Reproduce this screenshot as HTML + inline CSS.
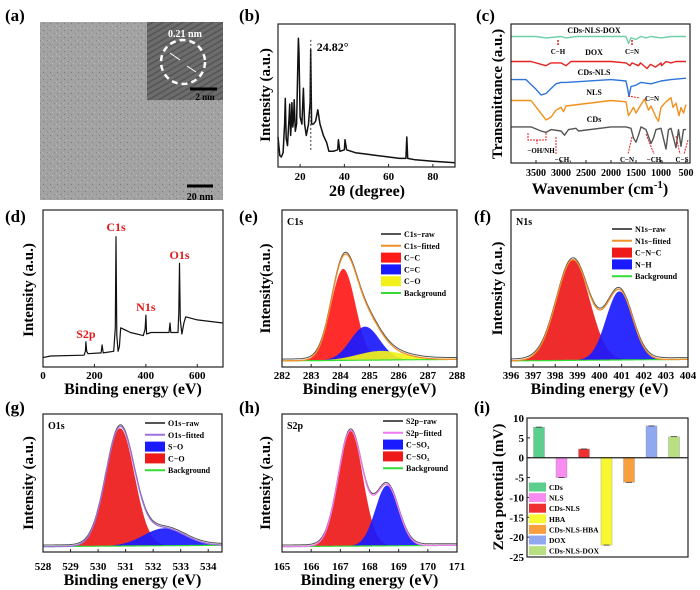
<!DOCTYPE html>
<html><head><meta charset="utf-8"><style>
html,body{margin:0;padding:0;background:#fff;}
svg{display:block;font-family:"Liberation Serif",serif;font-weight:bold;}
</style></head><body>
<svg id="fig" width="700" height="590" viewBox="0 0 700 590">
<defs>
<pattern id="tem" width="7" height="7" patternUnits="userSpaceOnUse">
<rect width="7" height="7" fill="#a2a2a2"/><rect x="1" y="2" width="1" height="1" fill="#7a7a7a"/><rect x="5" y="5" width="1" height="1" fill="#888"/><rect x="3" y="0" width="1" height="1" fill="#bcbcbc"/><rect x="0" y="5" width="1" height="1" fill="#b8b8b8"/>
</pattern>
<pattern id="hr" width="5" height="5" patternUnits="userSpaceOnUse" patternTransform="rotate(60)">
<rect width="5" height="5" fill="#6c6c6c"/><rect width="1.5" height="5" fill="#555"/>
</pattern>
</defs>
<g font-size="17">
<text x="5" y="21">(a)</text><text x="239" y="21">(b)</text><text x="476" y="21">(c)</text>
<text x="5" y="222">(d)</text><text x="239" y="222">(e)</text><text x="474" y="222">(f)</text>
<text x="5" y="413">(g)</text><text x="239" y="413">(h)</text><text x="474" y="413">(i)</text>
</g>
<g>
<rect x="40" y="22" width="183" height="178" fill="url(#tem)"/>
<rect x="147" y="22" width="76" height="78" fill="url(#hr)"/>
<circle cx="183" cy="62" r="22" fill="none" stroke="#fff" stroke-width="2.5" stroke-dasharray="6,4"/>
<line x1="170" y1="53" x2="180" y2="60" stroke="#fff" stroke-width="1"/><line x1="196" y1="72" x2="187" y2="66" stroke="#fff" stroke-width="1"/>
<text x="185" y="37" fill="#fff" font-size="10" text-anchor="middle">0.21 nm</text>
<line x1="190" y1="89" x2="217" y2="89" stroke="#000" stroke-width="3"/>
<text x="205" y="100" fill="#000" font-size="9" text-anchor="middle">2 nm</text>
<line x1="187" y1="186" x2="213" y2="186" stroke="#000" stroke-width="3"/>
<text x="200" y="200" font-size="10" text-anchor="middle">20 nm</text>
</g>
<g id="plots"></g>
</svg>
<script>
// ---------- DATA ----------
const xrdAngles=[10,10.8,11.5,12.3,13.0,13.3,13.7,14.3,15.0,15.3,15.7,16.0,16.3,16.7,17.0,17.3,17.8,18.4,19.0,19.2,19.5,20.0,20.8,21.5,22.0,22.8,23.8,24.5,24.8,25.2,26.0,27.0,28.0,29.0,30.5,32,33,35,37,37.3,38,40,40.3,41,45,50,55,60,65,67.8,68.2,68.6,72,80,90];
const xrdIntensity=[0.21,0.08,0.07,0.1,0.3,0.48,0.2,0.15,0.35,0.44,0.22,0.3,0.45,0.28,0.33,0.47,0.25,0.3,0.75,0.9,0.8,0.35,0.3,0.55,0.3,0.22,0.3,0.45,0.82,0.3,0.3,0.32,0.4,0.3,0.22,0.17,0.11,0.11,0.12,0.19,0.11,0.12,0.19,0.12,0.1,0.09,0.08,0.07,0.06,0.06,0.21,0.06,0.05,0.04,0.03];
const xrdTicks=[20,40,60,80];

const ftirTicks=[3500,3000,2500,2000,1500,1000,500];
const ftirNames=["CDs-NLS-DOX","DOX","CDs-NLS","NLS","CDs"];
const ftirDoxNlsWn=[4000,3500,3300,3000,2900,2700,2000,1700,1650,1600,1500,1400,1300,1200,1000,800,500];
const ftirDoxNlsT=[91,91,90,91,90,91,91,91,86,90,89,91,90,91,90,91,91];
const ftirDoxWn=[4000,3600,3400,3300,3200,3000,2900,2800,2000,1700,1620,1580,1450,1410,1280,1210,1110,1000,990,900,800,700,500];
const ftirDoxT=[73,73,71,70,72,72,70,73,73,72,70,72,70,72,68,71,69,72,70,73,72,73,73];
const ftirCdsNlsWn=[4000,3700,3500,3400,3300,3100,3000,2900,2000,1700,1660,1640,1600,1500,1400,1200,1000,800,500];
const ftirCdsNlsT=[60,60,53,49,50,57,58,58,60,59,52,48,55,56,58,57,59,60,61];
const ftirNlsWn=[4000,3600,3450,3300,3200,3100,3000,2950,2900,2000,1700,1650,1550,1500,1400,1330,1250,1200,1100,1050,1000,900,800,760,700,640,600,550,500];
const ftirNlsT=[45,45,38,31,33,38,40,37,41,45,44,34,40,36,42,46,38,41,33,30,40,44,47,40,43,34,40,36,42];
const ftirCdsWn=[4000,3600,3400,3300,3200,3000,2930,2850,2700,2650,2000,1700,1600,1550,1500,1450,1400,1300,1200,1150,1100,1000,900,850,800,700,650,600,550,500];
const ftirCdsT=[26,26,23,22,24,23,20,24,25,23,26,26,25,18,15,20,26,24,14,18,24,25,10,24,25,11,24,12,24,24];

const surveyEv=[0,30,160,165,167,170,175,226,230,234,275,281,284,287,292,297,302,340,390,397,400,403,420,490,494,497,500,525,528,531,534,540,548,555,600,700];
const surveyI=[0.06,0.07,0.075,0.1,0.16,0.1,0.085,0.09,0.14,0.09,0.1,0.25,0.83,0.2,0.1,0.13,0.25,0.22,0.2,0.24,0.33,0.21,0.22,0.22,0.28,0.22,0.22,0.22,0.35,0.66,0.3,0.21,0.28,0.32,0.3,0.28];
const surveyTicks=[0,200,400,600];

const c1sCenters=[284.1,284.85,285.4];
const c1sHeights=[0.6,0.22,0.06];
const c1sWidths=[0.42,0.5,0.8];
const c1sTicks=[282,283,284,285,286,287,288];

const n1sCenters=[398.8,400.9];
const n1sHeights=[0.66,0.45];
const n1sWidths=[0.75,0.6];
const n1sTicks=[396,397,398,399,400,401,402,403,404];

const o1sCenters=[530.8,532.4];
const o1sHeights=[0.88,0.13];
const o1sWidths=[0.52,0.75];
const o1sTicks=[528,529,530,531,532,533,534];

const s2pCenters=[167.35,168.6];
const s2pHeights=[0.86,0.45];
const s2pWidths=[0.42,0.4];
const s2pTicks=[165,166,167,168,169,170,171];

const zetaNames=["CDs","NLS","CDs-NLS","HBA","CDs-NLS-HBA","DOX","CDs-NLS-DOX"];
const zetaValues=[7.7,-5,2.2,-22,-6.2,8,5.3];
const zetaTicks=[10,5,0,-5,-10,-15,-20,-25];

// ---------- DRAWING ----------
const NS="http://www.w3.org/2000/svg";
const root=document.getElementById('plots');
function el(tag,attrs,parent,txt){const e=document.createElementNS(NS,tag);for(const k in attrs)e.setAttribute(k,attrs[k]);if(txt!==undefined)e.textContent=txt;(parent||root).appendChild(e);return e;}
function lin(d0,d1,r0,r1){return v=>r0+(v-d0)*(r1-r0)/(d1-d0);}
function gauss(x,c,h,s){return h*Math.exp(-(x-c)*(x-c)/(2*s*s));}

function frame(g,x0,y0,x1,y1){const r=el('rect',{x:x0,y:y0,width:x1-x0,height:y1-y0,fill:'none',stroke:'#222','stroke-width':1.2},g);}
function xTicks(g,ticks,sx,yb,labY,fs,fmt){ticks.forEach(t=>{el('line',{x1:sx(t),y1:yb,x2:sx(t),y2:yb-3,stroke:'#222'},g);const tx=el('text',{x:sx(t),y:labY,'font-size':fs,'text-anchor':'middle'},g,fmt?fmt(t):t);});}
function yTitle(g,x,yc,txt,fs){const t=el('text',{x:x,y:yc,'font-size':fs,'text-anchor':'middle',transform:`rotate(-90 ${x} ${yc})`},g,txt);}
function xTitle(g,xc,y,txt,fs){const t=el('text',{x:xc,y:y,'font-size':fs,'text-anchor':'middle'},g,txt);}
function poly(g,xs,ys,sx,sy,color,w){let d='';xs.forEach((x,i)=>{d+=(i?'L':'M')+sx(x).toFixed(1)+','+sy(ys[i]).toFixed(1);});return el('path',{d:d,fill:'none',stroke:color,'stroke-width':w||1.3,'stroke-linejoin':'round'},g);}

// (b) XRD
(function(){
 const g=el('g',{});
 const sx=lin(10,90,278,455), sy=lin(0,1,167,24);
 const p=poly(g,xrdAngles,xrdIntensity,sx,sy,'#111',1.5);
 el('line',{x1:sx(24.82),y1:sy(0.12),x2:sx(24.82),y2:sy(0.9),stroke:'#333','stroke-dasharray':'2,2'},g);
 el('text',{x:sx(24.82)+6,y:51,'font-size':12},g,'24.82°');
 frame(g,278,24,455,167);xTicks(g,xrdTicks,sx,167,180,11);
 yTitle(g,270,95,'Intensity (a.u.)',15);xTitle(g,367,196,'2θ (degree)',16);
})();

// (c) FTIR
(function(){
 const g=el('g',{});
 const sx=lin(4000,420,511,690), sy=lin(0,100,163,24);
 const sets=[[ftirDoxNlsWn,ftirDoxNlsT,'#6fcfa8'],[ftirDoxWn,ftirDoxT,'#e52222'],[ftirCdsNlsWn,ftirCdsNlsT,'#2f74d8'],[ftirNlsWn,ftirNlsT,'#f0901c'],[ftirCdsWn,ftirCdsT,'#555']];
 const labY=[33,55,75,95,122];
 sets.forEach((s,i)=>{const p=poly(g,s[0],s[1],sx,sy,s[2],1.4);
  el('text',{x:594,y:labY[i],'font-size':8,'text-anchor':'middle'},g,ftirNames[i]);});
 const red='#e02020';
 el('line',{x1:558,y1:40,x2:558,y2:46,stroke:red,'stroke-dasharray':'2,1','stroke-width':1.5},g);
 el('text',{x:558,y:54,'font-size':7,'text-anchor':'middle'},g,'C−H');
 el('line',{x1:632,y1:40,x2:632,y2:46,stroke:red,'stroke-dasharray':'2,1','stroke-width':1.5},g);
 el('text',{x:632,y:54,'font-size':7,'text-anchor':'middle'},g,'C=N');
 el('line',{x1:628,y1:96,x2:640,y2:98,stroke:red,'stroke-dasharray':'2,1'},g);
 el('text',{x:652,y:101,'font-size':7,'text-anchor':'middle'},g,'C=N');
 el('path',{d:'M528,133 L528,140 L546,140 L546,133 M537,140 L537,144',fill:'none',stroke:red,'stroke-dasharray':'2,1'},g);
 el('text',{x:541,y:153,'font-size':7,'text-anchor':'middle'},g,'−OH/NH');
 el('line',{x1:556,y1:137,x2:556,y2:154,stroke:red,'stroke-dasharray':'2,1'},g);
 el('text',{x:563,y:162,'font-size':7,'text-anchor':'middle'},g,'−CH₃');
 el('path',{d:'M632,137 L628,154 M646,134 L654,154',fill:'none',stroke:red,'stroke-dasharray':'2,1'},g);
 el('text',{x:627,y:162,'font-size':7,'text-anchor':'middle'},g,'C−N');
 el('text',{x:655,y:162,'font-size':7,'text-anchor':'middle'},g,'−CH₂');
 el('path',{d:'M676,136 L680,154 M688,140 L684,154',fill:'none',stroke:red,'stroke-dasharray':'2,1'},g);
 el('text',{x:682,y:162,'font-size':7,'text-anchor':'middle'},g,'C−S');
 frame(g,511,24,690,163);xTicks(g,ftirTicks,sx,163,176,10);
 yTitle(g,502,94,'Transmittance (a.u.)',15);
 const t=el('text',{x:600,y:194,'font-size':16,'text-anchor':'middle'},g,'Wavenumber (cm');
 el('tspan',{dy:-6,'font-size':11},t,'-1');el('tspan',{dy:6},t,')');
})();

// (d) survey
(function(){
 const g=el('g',{});
 const sx=lin(0,700,43,223), sy=lin(0,1,367,210);
 const p=poly(g,surveyEv,surveyI,sx,sy,'#111',1.2);
 [['C1s',284,231],['O1s',531,259],['N1s',400,311],['S2p',167,338]].forEach(a=>el('text',{x:sx(a[1]),y:a[2],'font-size':12,fill:'#e01a1a','text-anchor':'middle'},g,a[0]));
 frame(g,43,210,223,367);xTicks(g,surveyTicks,sx,367,379,11);
 yTitle(g,33,290,'Intensity (a.u.)',15);xTitle(g,133,394,'Binding energy (eV)',16);
})();

function xpsPanel(name,x0,x1,y0,y1,d0,d1,centers,heights,widths,colors,fitColor,ticks,yt,xtY,titleY,title,elem,legend,lx,ly,ytitle){
 const g=el('g',{});
 const sx=lin(d0,d1,x0,x1), sy=lin(-0.03,1,y1,y0);
 const N=160, xs=[];for(let i=0;i<=N;i++)xs.push(d0+(d1-d0)*i/N);
 const bg=v=>0.01+0.01*(v-d0)/(d1-d0);
 centers.forEach((c,k)=>{let d='M'+sx(d0)+','+sy(bg(d0));xs.forEach(v=>{d+='L'+sx(v).toFixed(1)+','+sy(bg(v)+gauss(v,c,heights[k],widths[k])).toFixed(1);});xs.slice().reverse().forEach(v=>{d+='L'+sx(v).toFixed(1)+','+sy(bg(v)).toFixed(1);});
  const a=el('path',{d:d+'Z',fill:colors[k],'fill-opacity':0.92,stroke:'none'},g);});
 const sum=xs.map(v=>bg(v)+centers.reduce((s,c,k)=>s+gauss(v,c,heights[k],widths[k]),0));
 poly(g,xs,xs.map(bg),sx,sy,'#33dd33',1.2);
 const r=poly(g,xs,sum.map(v=>v+0.012),sx,sy,'#555',1);
 const f=poly(g,xs,sum,sx,sy,fitColor,1.3);
 frame(g,x0,y0,x1,y1);xTicks(g,ticks,sx,y1,xtY,11);
 yTitle(g,yt,(y0+y1)/2,ytitle,15);xTitle(g,(x0+x1)/2,titleY,title,16);
 el('text',{x:x0+5,y:y0+15,'font-size':10},g,elem);
 legend.forEach((it,i)=>{const y=ly+i*11.8;
  if(it[2]==='line')el('line',{x1:lx,y1:y,x2:lx+20,y2:y,stroke:it[1],'stroke-width':2},g);
  else el('rect',{x:lx,y:y-5,width:20,height:10,fill:it[1]},g);
  const t=el('text',{x:lx+23,y:y+3,'font-size':8},g,it[0]);});
}
xpsPanel('c1s-panel',282,457,210,367,282,288,c1sCenters,c1sHeights,c1sWidths,['#ff1a1a','#1a1aff','#f2f21a'],'#f0902a',c1sTicks,270,379,394,'Binding energy(eV)','C1s',
 [['C1s−raw','#555','line'],['C1s−fitted','#f0902a','line'],['C−C','#ff1a1a','box'],['C=C','#1a1aff','box'],['C−O','#f2f21a','box'],['Background','#33dd33','line']],381,234,'Intensity(a.u.)');
xpsPanel('n1s-panel',511,688,210,367,396,404,n1sCenters,n1sHeights,n1sWidths,['#ee1a1a','#1a1aff'],'#f0902a',n1sTicks,502,379,394,'Binding energy (eV)','N1s',
 [['N1s−raw','#555','line'],['N1s−fitted','#f0902a','line'],['C−N−C','#ee1a1a','box'],['N−H','#1a1aff','box'],['Background','#33dd33','line']],612,229,'Intensity (a.u.)');
xpsPanel('o1s-panel',43,222,414,552,528,534.5,o1sCenters,o1sHeights,o1sWidths,['#ee1a1a','#1a1aff'],'#a070e0',o1sTicks,33,570,585,'Binding energy (eV)','O1s',
 [['O1s−raw','#555','line'],['O1s−fitted','#a070e0','line'],['S−O','#1a1aff','box'],['C−O','#ee1a1a','box'],['Background','#33dd33','line']],145,423,'Intensity (a.u.)');
xpsPanel('s2p-panel',282,457,414,552,165,171,s2pCenters,s2pHeights,s2pWidths,['#ee1a1a','#1a1aff'],'#f07af0',s2pTicks,270,570,585,'Binding energy (eV)','S2p',
 [['S2p−raw','#555','line'],['S2p−fitted','#f07af0','line'],['C−SO₃','#1a1aff','box'],['C−SO₂','#ee1a1a','box'],['Background','#33dd33','line']],383,421,'Intensity (a.u.)');

// (i) zeta
(function(){
 const g=el('g',{});
 const colors=['#5ccf8f','#f88cf0','#f03030','#f8f830','#f8a040','#90a8f0','#b8e080'];
 const x0=527,x1=688,y0=418,y1=557;
 const sy=lin(10,-25,y0,y1);
 const bx=i=>x0+12+i*22.5;
 zetaValues.forEach((v,i)=>{const b=el('rect',{x:bx(i)-5.5,y:Math.min(sy(v),sy(0)),width:11,height:Math.abs(sy(v)-sy(0)),fill:colors[i],stroke:'#999','stroke-width':0.4},g);
  
  
  el('line',{x1:bx(i)-3,y1:sy(v),x2:bx(i)+3,y2:sy(v),stroke:'#333','stroke-width':0.8},g);});
 el('line',{x1:x0,y1:sy(0),x2:x1,y2:sy(0),stroke:'#222','stroke-width':1.2},g);
 frame(g,x0,y0,x1,y1);
 zetaTicks.forEach(t=>{el('line',{x1:x0,y1:sy(t),x2:x0+3,y2:sy(t),stroke:'#222'},g);const l=el('text',{x:x0-3,y:sy(t)+4,'font-size':11,'text-anchor':'end'},g,t);});
 zetaNames.forEach((n,i)=>{const y=487+i*10.6;el('rect',{x:529,y:y-4.5,width:17,height:9,fill:colors[i]},g);
  const t=el('text',{x:549,y:y+3,'font-size':7.5},g,n);});
 yTitle(g,503,487,'Zeta potential (mV)',15);
})();
</script>
</body></html>
